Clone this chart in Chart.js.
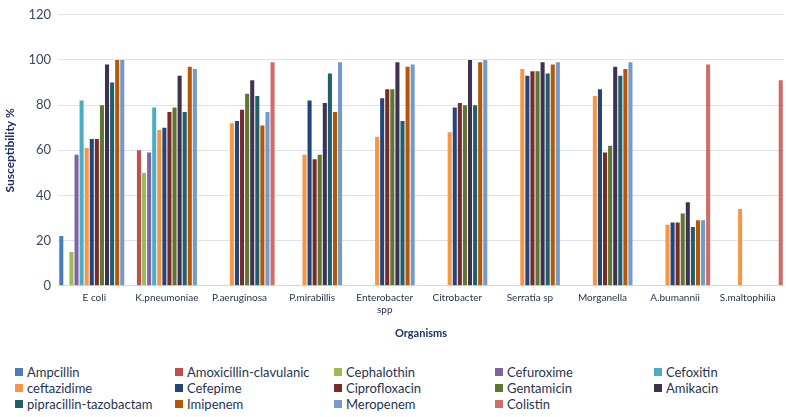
<!DOCTYPE html>
<html>
<head>
<meta charset="utf-8">
<script src="https://cdn.jsdelivr.net/npm/chart.js@4"></script>
<style>
  body { margin: 0; background: #fff; font-family: Lato, "Open Sans", sans-serif; }
  #wrap { position: relative; width: 790px; height: 417px; }
  #chart-box { position: absolute; left: 0; top: 0; width: 790px; height: 360px; }
  #legend { position: absolute; left: 15px; top: 364px; display: grid;
            grid-template-columns: 160px 159px 161px 159px 130px; row-gap: 1px;
            font-size: 13px; color: #26344f; }
  #legend div { display: flex; align-items: center; height: 15px; white-space: nowrap; }
  #legend span.sw { display: inline-block; width: 8px; height: 8px; margin-right: 4px; }
</style>
</head>
<body>
<div id="wrap">
  <div id="chart-box"><canvas id="chart"></canvas></div>
  <div id="legend"></div>
</div>
<script>
const organisms = ["E coli", "K.pneumoniae", "P.aeruginosa", "P.mirabillis", ["Enterobacter", "spp"],
    "Citrobacter", "Serratia sp", "Morganella", "A.bumannii", "S.maltophilia"];

const ampcillin     = [22, null, null, null, null, null, null, null, null, null];
const amoxClav      = [null, 60, null, null, null, null, null, null, null, null];
const cephalothin   = [15, 50, null, null, null, null, null, null, null, null];
const cefuroxime    = [58, 59, null, null, null, null, null, null, null, null];
const cefoxitin     = [82, 79, null, null, null, null, null, null, null, null];
const ceftazidime   = [61, 69, 72, 58, 66, 68, 96, 84, 27, 34];
const cefepime      = [65, 70, 73, 82, 83, 79, 93, 87, 28, null];
const ciprofloxacin = [65, 77, 78, 56, 87, 81, 95, 59, 28, null];
const gentamicin    = [80, 79, 85, 58, 87, 80, 95, 62, 32, null];
const amikacin      = [98, 93, 91, 81, 99, 100, 99, 97, 37, null];
const pipTazo       = [90, 77, 84, 94, 73, 80, 94, 93, 26, null];
const imipenem      = [100, 97, 71, 77, 97, 99, 98, 96, 29, null];
const meropenem     = [100, 96, 77, 99, 98, 100, 99, 99, 29, null];
const colistin      = [null, null, 99, null, null, null, null, null, 98, 91];

const seriesNames = ["Ampcillin", "Amoxicillin-clavulanic", "Cephalothin", "Cefuroxime", "Cefoxitin",
    "ceftazidime", "Cefepime", "Ciprofloxacin", "Gentamicin", "Amikacin",
    "pipracillin-tazobactam", "Imipenem", "Meropenem", "Colistin"];
const seriesData = [ampcillin, amoxClav, cephalothin, cefuroxime, cefoxitin, ceftazidime, cefepime,
    ciprofloxacin, gentamicin, amikacin, pipTazo, imipenem, meropenem, colistin];
const colors = ["#4a7ebb", "#c0504d", "#9bbb59", "#8064a2", "#4bacc6", "#f79646", "#23467a",
    "#772c2a", "#5f7530", "#3f3151", "#215f6e", "#b65708", "#729aca", "#d06b66"];

const yTicks = [0, 20, 40, 60, 80, 100, 120];

const datasets = seriesNames.map((name, i) => ({
    label: name,
    data: seriesData[i],
    backgroundColor: colors[i],
    borderWidth: 0,
    categoryPercentage: 0.98,
    barPercentage: 0.8,
}));

const ctx = document.getElementById("chart").getContext("2d");
const myChart = new Chart(ctx, {
    type: "bar",
    data: { labels: organisms, datasets: datasets },
    options: {
        responsive: true,
        maintainAspectRatio: false,
        animation: false,
        layout: { padding: { top: 0, right: 6, bottom: 20, left: 3 } },
        plugins: { legend: { display: false }, tooltip: { enabled: false } },
        scales: {
            x: {
                grid: { display: false, drawTicks: false },
                border: { display: true, color: "#d9d9d9" },
                ticks: { color: "#26344f", font: { family: "Lato", size: 10 }, padding: 6, maxRotation: 0, autoSkip: false },
                title: { display: true, text: "Organisms", color: "#1f3060",
                         font: { family: "Lato", size: 11, weight: "bold" }, padding: { top: 5, bottom: 0 } },
            },
            y: {
                min: 0, max: 120,
                afterBuildTicks: (axis) => { axis.ticks = yTicks.map((v) => ({ value: v })); },
                grid: { color: "#dce3ee", drawTicks: false },
                border: { display: false },
                ticks: { color: "#3a475f", font: { family: "Lato", size: 13 }, padding: 7 },
                title: { display: true, text: "Susceptibility %", color: "#1f3060",
                         font: { family: "Lato", size: 12, weight: "bold" }, padding: { top: 0, bottom: 4 } },
            },
        },
    },
});

const legend = document.getElementById("legend");
myChart.data.datasets.forEach((ds) => {
    const item = document.createElement("div");
    item.innerHTML = '<span class="sw" style="background:' + ds.backgroundColor + '"></span>' + ds.label;
    legend.appendChild(item);
});
</script>
</body>
</html>
